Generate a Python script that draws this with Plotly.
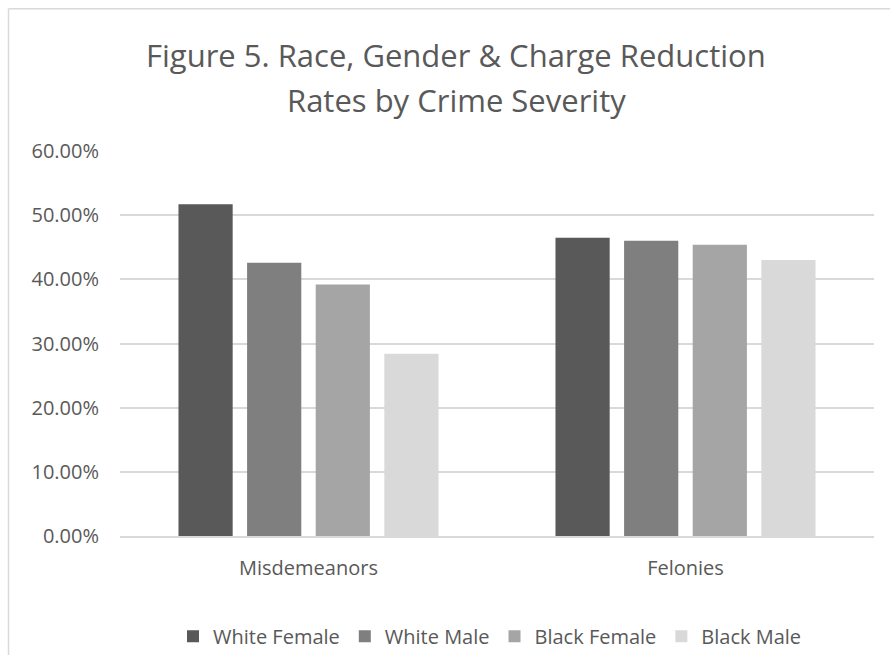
import plotly.graph_objects as go

categories = ["Misdemeanors", "Felonies"]
series_names = ["White Female", "White Male", "Black Female", "Black Male"]
white_female = [0.517, 0.465]
white_male = [0.426, 0.460]
black_female = [0.392, 0.454]
black_male = [0.284, 0.430]
colors = ["#595959", "#7f7f7f", "#a5a5a5", "#d9d9d9"]
y_ticks = [0, 0.1, 0.2, 0.3, 0.4, 0.5, 0.6]
title_lines = ["Figure 5. Race, Gender & Charge Reduction", "Rates by Crime Severity"]

FONT = "Open Sans"
TXT = "#595959"

fig = go.Figure()
for name, vals, col in zip(series_names, [white_female, white_male, black_female, black_male], colors):
    fig.add_trace(go.Bar(name=name, x=categories, y=vals, marker=dict(color=col, line=dict(width=0))))

W, H = 890, 655
ml, mr, mt, mb = 120, 16, 151, 118.5
pw = W - ml - mr
ph = H - mt - mb

def px2x(px):
    return (px - ml) / pw

def px2y(py):
    return (H - mb - py) / ph

fig.update_layout(
    width=W, height=H,
    margin=dict(l=ml, r=mr, t=mt, b=mb, pad=0, autoexpand=False),
    paper_bgcolor="white", plot_bgcolor="white",
    barmode="group", bargap=0.272, bargroupgap=0.21,
    font=dict(family=FONT, color=TXT, size=20),
    xaxis=dict(showgrid=False, showline=True, linecolor="#d9d9d9", linewidth=1.5,
               ticks="", tickfont=dict(size=20, color=TXT), ticklabelstandoff=13),
    yaxis=dict(range=[0, 0.6], tickvals=y_ticks, tickformat=".2%", showgrid=True,
               gridcolor="#d9d9d9", gridwidth=1.5, zeroline=False, showline=False,
               ticks="", tickfont=dict(size=20, color=TXT), ticklabelstandoff=20),
    legend=dict(orientation="h", x=px2x(490), xanchor="center", y=px2y(637), yanchor="middle",
                font=dict(size=20, color=TXT), traceorder="normal",
                itemwidth=30, tracegroupgap=0),
    showlegend=True,
)

for txt, yc in zip(title_lines, [55, 100]):
    fig.add_annotation(text=txt, xref="paper", yref="paper", x=px2x(456), y=px2y(yc),
                       xanchor="center", yanchor="middle", showarrow=False,
                       font=dict(family=FONT, size=31, color=TXT))

# chart-area border (partially cropped, like the reference)
fig.add_shape(type="line", xref="paper", yref="paper", x0=px2x(8.5), x1=px2x(8.5),
              y0=px2y(8.5), y1=px2y(700), line=dict(color="#d9d9d9", width=1.5))
fig.add_shape(type="line", xref="paper", yref="paper", x0=px2x(8.5), x1=px2x(950),
              y0=px2y(8.5), y1=px2y(8.5), line=dict(color="#d9d9d9", width=1.5))

fig.write_html("out.html")
